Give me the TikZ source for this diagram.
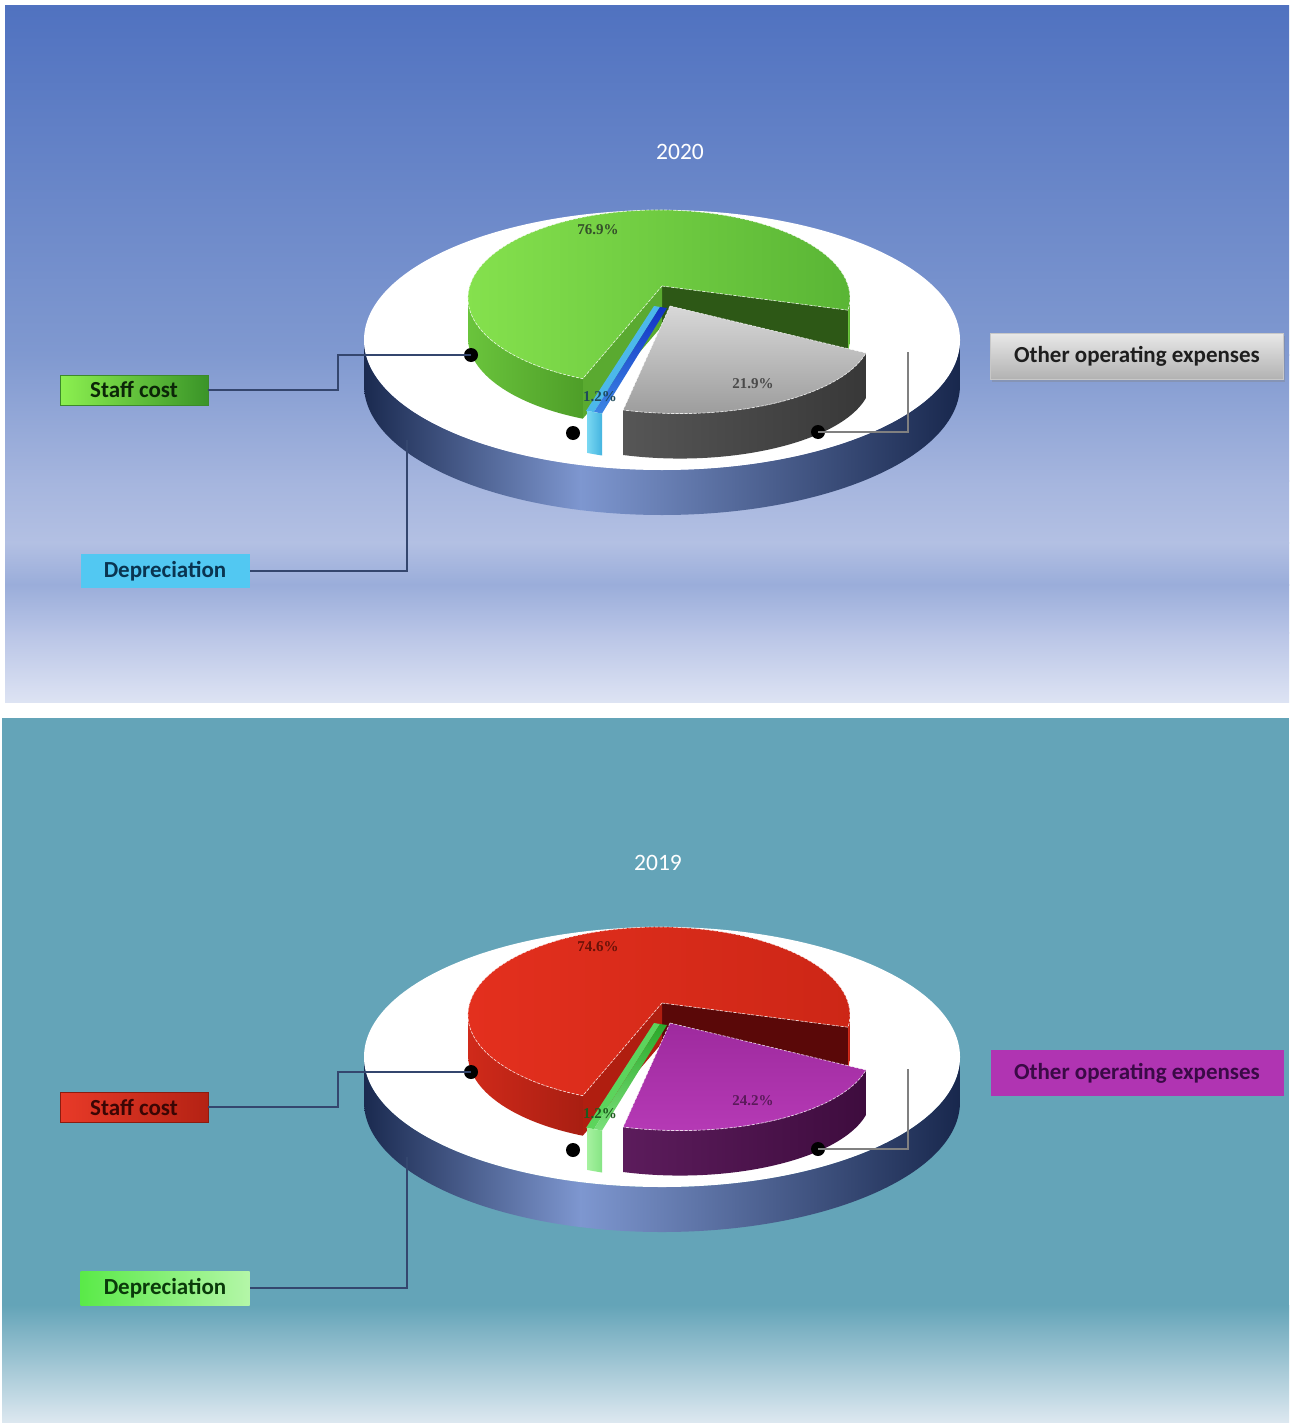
\documentclass[tikz,border=0pt]{standalone}
\usepackage{fontspec}
\setmainfont{Carlito}
\newfontfamily\pctfont{Liberation Serif}
\usetikzlibrary{shadows}
% background
\definecolor{bgA}{HTML}{5072C0}\definecolor{bgB}{HTML}{8099D0}\definecolor{bgC}{HTML}{A5B5DE}
\definecolor{bgD}{HTML}{B3C0E3}\definecolor{bgE}{HTML}{9AADDA}\definecolor{bgF}{HTML}{B8C4E6}
\definecolor{bgG}{HTML}{DDE3F3}\definecolor{teal}{HTML}{64A4B8}\definecolor{tealend}{HTML}{DDE8F0}
\definecolor{rimdark}{HTML}{16254A}\definecolor{rimlight}{HTML}{7E97D0}
\definecolor{leadc}{HTML}{34466E}
% 2020
\definecolor{gA}{HTML}{86E24E}\definecolor{gB}{HTML}{58B434}\definecolor{gsA}{HTML}{6AC43C}
\definecolor{gsB}{HTML}{4E9E28}\definecolor{gcR}{HTML}{2D5816}\definecolor{gcL}{HTML}{5AAA30}
\definecolor{bStrip}{HTML}{4CB8EA}\definecolor{bTopA}{HTML}{1232C4}\definecolor{bTopB}{HTML}{3C86E4}
\definecolor{bFrA}{HTML}{7AD8F2}\definecolor{bFrB}{HTML}{44B4E0}
\definecolor{grTopA}{HTML}{D8D8D8}\definecolor{grTopB}{HTML}{9A9A9A}
\definecolor{grSA}{HTML}{565656}\definecolor{grSB}{HTML}{383838}
\definecolor{pctG}{HTML}{34502A}\definecolor{pctBl}{HTML}{1E4A5A}\definecolor{pctGr}{HTML}{4A4A4A}
\definecolor{sbA}{HTML}{8CF050}\definecolor{sbB}{HTML}{3A9428}\definecolor{sbD}{HTML}{3C8A2A}\definecolor{sbT}{HTML}{0C2608}
\definecolor{dbF}{HTML}{52C8F2}\definecolor{dbT}{HTML}{0A3450}
\definecolor{obA}{HTML}{E8E8E8}\definecolor{obB}{HTML}{B2B2B2}\definecolor{obD}{HTML}{C8C8C8}\definecolor{obT}{HTML}{1E1E1E}
% 2019
\definecolor{rA}{HTML}{E4301E}\definecolor{rB}{HTML}{CC2616}\definecolor{rsA}{HTML}{D02A1A}
\definecolor{rsB}{HTML}{A81E12}\definecolor{rcR}{HTML}{5A0808}\definecolor{rcL}{HTML}{B01E10}
\definecolor{lgStrip}{HTML}{5CD45C}\definecolor{lgTopA}{HTML}{2AA82A}\definecolor{lgTopB}{HTML}{7AE07A}
\definecolor{lgFrA}{HTML}{A6F2A0}\definecolor{lgFrB}{HTML}{86E484}
\definecolor{puTopA}{HTML}{9E2A9E}\definecolor{puTopB}{HTML}{B63AB6}
\definecolor{puSA}{HTML}{5C1C5C}\definecolor{puSB}{HTML}{3E0C3E}
\definecolor{pctR}{HTML}{6A1208}\definecolor{pctLG}{HTML}{1E5A1E}\definecolor{pctP}{HTML}{5A1A5A}
\definecolor{rbA}{HTML}{E83A28}\definecolor{rbB}{HTML}{B42214}\definecolor{rbD}{HTML}{8C1C10}\definecolor{rbT}{HTML}{3A0604}
\definecolor{lbA}{HTML}{5AEA48}\definecolor{lbB}{HTML}{B4F6A8}\definecolor{lbT}{HTML}{0A3A0A}
\definecolor{pbF}{HTML}{B034B2}\definecolor{pbT}{HTML}{3A0A46}

\newcommand{\drawpie}[6]{%
 \begin{scope}
  \clip (364,-340) -- (364,-385) arc[start angle=180,end angle=360,x radius=298pt,y radius=130pt]
    -- (960,-340) arc[start angle=0,end angle=-180,x radius=298pt,y radius=130pt] -- cycle;
  \path[left color=rimdark,right color=rimlight] (355,-330) rectangle (581,-525);
  \path[left color=rimlight,right color=rimdark] (580,-330) rectangle (968,-525);
 \end{scope}
 \fill[white] (662,-340) ellipse[x radius=298pt,y radius=130pt];
 % big slice
 \path[bigcutR] (662,-286) -- (848.1,-310.2) -- (848.1,-350.2) -- (662,-326) -- cycle;
 \path[bigcutL] (662,-286) -- (582.8,-378.7) -- (582.8,-418.7) -- (662,-326) -- cycle;
 \path[bigside] (468,-298) arc[start angle=180,end angle=246.5,x radius=191pt,y radius=88pt]
    -- ++(0,-40) arc[start angle=246.5,end angle=180,x radius=191pt,y radius=88pt] -- cycle;
 \path[bigside] (848.1,-310.2) arc[start angle=-8,end angle=0,x radius=191pt,y radius=88pt]
    -- ++(0,-40) arc[start angle=0,end angle=-8,x radius=191pt,y radius=88pt] -- cycle;
 \path[bigtop,edgeln] (662,-286) -- (848.1,-310.2)
    arc[start angle=-8,end angle=246.5,x radius=191pt,y radius=88pt] -- cycle;
 % small slice
 \path[smallstrip] (654,-306) -- (586,-411) -- (594,-412) -- (660,-307) -- cycle;
 \path[smalltop] (660,-307) -- (594,-412) -- (602,-413.5) -- (667,-308) -- cycle;
 \path[smallfront] (587.1,-410.9) arc[start angle=246.9,end angle=251.7,x radius=191pt,y radius=88pt]
    -- ++(0,-42) arc[start angle=251.7,end angle=246.9,x radius=191pt,y radius=88pt] -- cycle;
 % other slice
 \path[otherside] (623.2,-410) arc[start angle=252.7,end angle=346.8,x radius=191pt,y radius=78.5pt]
    -- ++(0,-45) arc[start angle=346.8,end angle=252.7,x radius=191pt,y radius=78.5pt] -- cycle;
 \path[othertop,edgeln] (670,-306) -- (623.2,-410)
    arc[start angle=252.7,end angle=346.8,x radius=191pt,y radius=78.5pt] -- cycle;
 % dots and labels
 \node[dotn] (#1sdot) at (471,-355) {};
 \node[dotn] (#1ddot) at (573,-433) {};
 \node[dotn] (#1odot) at (818,-432) {};
 \node[lbl,staffbox,minimum width=148pt,minimum height=30pt] (#1staff) at (134,-390) {Staff cost};
 \node[lbl,depbox,minimum width=169pt,minimum height=34pt] (#1dep) at (165,-571) {Depreciation};
 \node[lbl,otherbox,minimum width=293pt,minimum height=46pt] (#1other) at (1137,-356) {Other operating expenses};
 \coordinate (#1dstart) at (407,-440);
 \coordinate (#1oend) at (908,-352);
 \draw[lead] (#1sdot.center) -- (338,-355) |- (#1staff.east);
 \draw[lead] (#1dstart) |- (#1dep.east);
 \draw[lead,draw=gray] (#1odot.center) -| (#1oend);
 \node[pct,pctbig] (#1pa) at (598,-230) {#4};
 \node[pct,pctsmall] (#1pb) at (600,-397) {#5};
 \node[pct,pctother] (#1pc) at (753,-384) {#6};
 \node[ttl] (#1title) at (#3) {#2};
}

\begin{document}
\begin{tikzpicture}[x=1pt,y=1pt,
  lead/.style={draw=leadc,line width=1.4pt},
  dotn/.style={circle,fill=black,inner sep=0pt,minimum size=14pt},
  lbl/.style={inner sep=0pt,font=\bfseries\fontsize{23}{28}\selectfont},
  ttl/.style={text=white,font=\fontsize{23.5}{27}\selectfont},
  pct/.style={font=\pctfont\bfseries\fontsize{15}{18}\selectfont},
  edgeln/.style={draw=white,line width=0.7pt,draw opacity=0.75,dash pattern=on 3pt off 1.5pt}]
\useasboundingbox (0,0) rectangle (1290,-1423);
\fill[white] (0,0) rectangle (1290,-1423);
% top background
\path[top color=bgA,bottom color=bgB] (5,-6) rectangle (1289,-355);
\path[top color=bgB,bottom color=bgC] (5,-354) rectangle (1289,-481);
\path[top color=bgC,bottom color=bgD] (5,-480) rectangle (1289,-543);
\path[top color=bgD,bottom color=bgE] (5,-542) rectangle (1289,-585);
\path[top color=bgE,bottom color=bgF] (5,-584) rectangle (1289,-633);
\path[top color=bgF,bottom color=bgG] (5,-632) rectangle (1289,-702);
% bottom background
\fill[teal] (2,-718) rectangle (1289,-1306);
\path[top color=teal,bottom color=tealend] (2,-1305) rectangle (1289,-1423);

\begin{scope}[
  bigtop/.style={left color=gA,right color=gB},
  bigside/.style={left color=gsA,right color=gsB},
  bigcutR/.style={fill=gcR},
  bigcutL/.style={fill=gcL},
  smallstrip/.style={fill=bStrip},
  smalltop/.style={top color=bTopA,bottom color=bTopB},
  smallfront/.style={left color=bFrA,right color=bFrB},
  othertop/.style={top color=grTopA,bottom color=grTopB},
  otherside/.style={left color=grSA,right color=grSB},
  pctbig/.style={text=pctG},pctsmall/.style={text=pctBl},pctother/.style={text=pctGr},
  staffbox/.style={left color=sbA,right color=sbB,draw=sbD,text=sbT},
  depbox/.style={fill=dbF,text=dbT},
  otherbox/.style={top color=obA,bottom color=obB,draw=obD,text=obT,
     drop shadow={shadow xshift=1pt,shadow yshift=-3pt,opacity=0.35}}]
\drawpie{t}{2020}{680,-152}{76.9\%}{1.2\%}{21.9\%}
\end{scope}

\begin{scope}[shift={(0,-717)},
  bigtop/.style={left color=rA,right color=rB},
  bigside/.style={left color=rsA,right color=rsB},
  bigcutR/.style={fill=rcR},
  bigcutL/.style={fill=rcL},
  smallstrip/.style={fill=lgStrip},
  smalltop/.style={top color=lgTopA,bottom color=lgTopB},
  smallfront/.style={left color=lgFrA,right color=lgFrB},
  othertop/.style={top color=puTopA,bottom color=puTopB},
  otherside/.style={left color=puSA,right color=puSB},
  pctbig/.style={text=pctR},pctsmall/.style={text=pctLG},pctother/.style={text=pctP},
  staffbox/.style={left color=rbA,right color=rbB,draw=rbD,text=rbT},
  depbox/.style={left color=lbA,right color=lbB,text=lbT},
  otherbox/.style={fill=pbF,text=pbT}]
\drawpie{b}{2019}{658,-146}{74.6\%}{1.2\%}{24.2\%}
\end{scope}
\end{tikzpicture}
\end{document}
